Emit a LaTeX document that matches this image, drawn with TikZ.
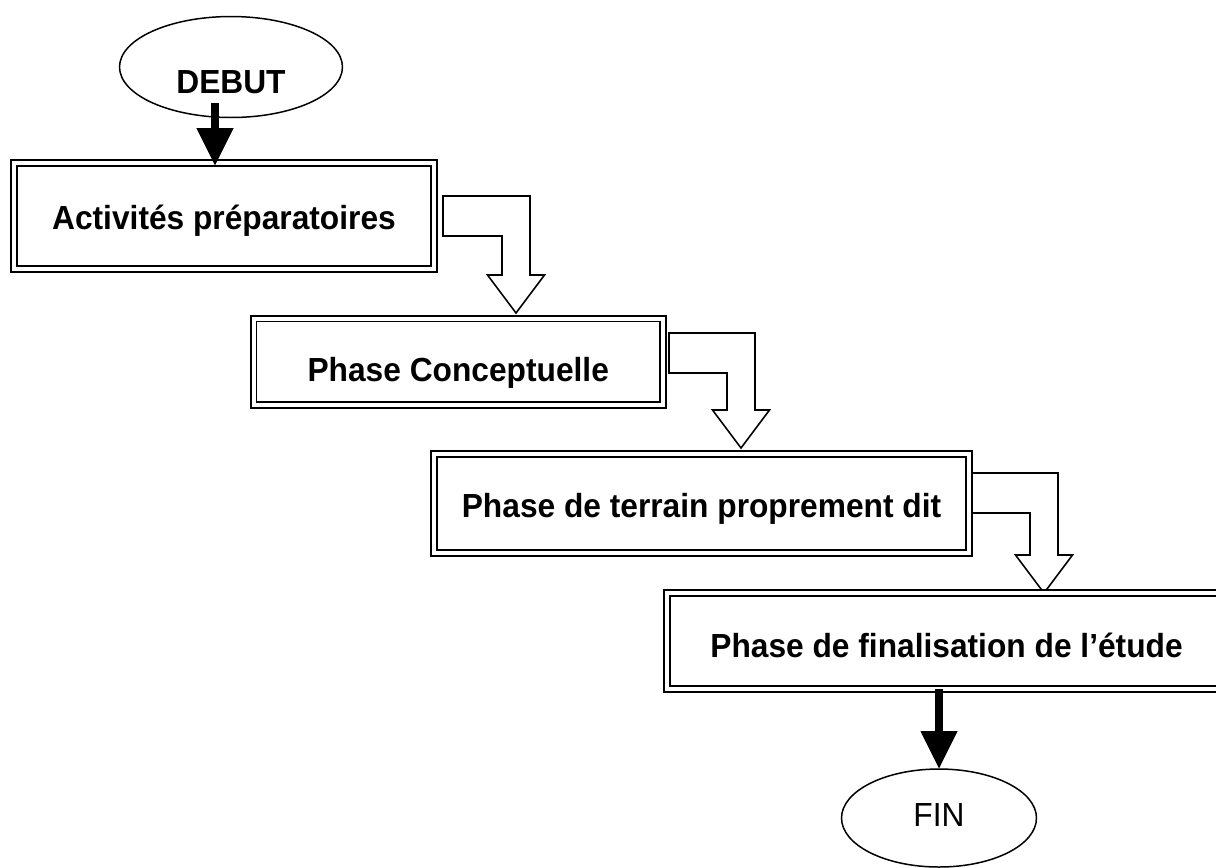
\documentclass[tikz,border=0pt]{standalone}
\usepackage{fontspec}
\setmainfont{Liberation Sans}[FakeStretch=0.95]
\usetikzlibrary{shapes.geometric,arrows.meta,calc}
% bent hollow block arrow: left x, top y, tip x, tip y (pixel units)
\newcommand\bentarrow[4]{%
  \draw[hollow] (#1,#2) -- ({#3+14},#2) -- ({#3+14},{#4-38}) -- ({#3+28.5},{#4-38})
    -- (#3,#4) -- ({#3-28.5},{#4-38}) -- ({#3-14},{#4-38}) -- ({#3-14},{#2+40})
    -- (#1,{#2+40}) -- cycle;}
\begin{document}
\begin{tikzpicture}[x=0.02cm,y=-0.02cm,
  boxtxt/.style={font=\fontsize{19pt}{22pt}\selectfont\bfseries},
  box/.style={boxtxt, draw, double, line width=1.1pt, double distance=0.08cm,
    rectangle, inner sep=0pt, outer sep=0pt, text depth=0pt},
  term/.style={draw, ellipse, line width=0.85pt, inner sep=0pt, outer sep=0pt, text depth=0pt},
  hollow/.style={draw, line width=0.9pt, fill=white, line join=miter},
  blackarrow/.style={line width=0.15cm, -{Triangle[width=0.7cm,length=0.76cm]}}
]
\useasboundingbox (0,0) rectangle (1216,867);
\clip (0,0) rectangle (1216,867);

% terminals
\node[term, boxtxt, minimum width=4.46cm, minimum height=2.02cm, text height=1.04cm] (debut) at (231,67) {DEBUT};
\node[term, font=\fontsize{19pt}{22pt}\selectfont, minimum width=3.9cm, minimum height=1.96cm, text height=0.32cm] (fin) at (939,818) {FIN};

% bent hollow arrows
\bentarrow{443}{196}{516}{313}
\bentarrow{669}{333}{741}{448}
\bentarrow{972}{473}{1044}{593}

% boxes
\node[box, minimum width=8.4cm, minimum height=2.12cm, text height=0.52cm] (b1) at (224,216) {Activités préparatoires};
\node[box, minimum width=8.19cm, minimum height=1.73cm, text height=0.78cm] (b2) at (458.25,361.75) {Phase Conceptuelle};
\node[box, minimum width=10.7cm, minimum height=1.98cm, text height=0.56cm] (b3) at (701.5,503.5) {Phase de terrain proprement dit};
\node[box, minimum width=11.18cm, minimum height=1.92cm, text height=0.66cm] (b4) at (946.5,641) {Phase de finalisation de l’étude};

% black arrows
\coordinate (s1) at (215,103);
\draw[blackarrow] (s1) -- ([yshift=-0.06cm]s1 |- b1.north);
\draw[blackarrow] (fin.north |- b4.south) -- (fin.north);
\end{tikzpicture}
\end{document}
